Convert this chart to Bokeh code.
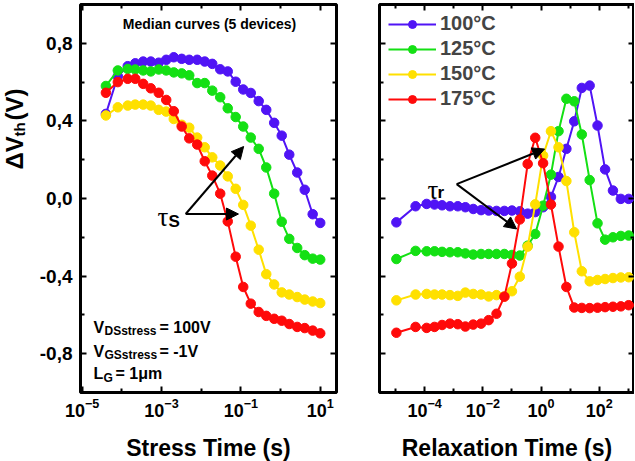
import math
from bokeh.plotting import figure
from bokeh.layouts import row
from bokeh.models import (FixedTicker, LogAxis, LinearAxis, CustomJSTickFormatter, Label,
                          Arrow, NormalHead, Legend, LegendItem, Range1d)
from bokeh.embed import file_html
from bokeh.resources import INLINE

# ---------------- data ----------------
stress_log_t = [-4.40, -4.10, -3.85, -3.66, -3.46, -3.27, -3.07, -2.88, -2.69, -2.49,
                -2.30, -2.10, -1.91, -1.72, -1.52, -1.33, -1.13, -0.94, -0.75, -0.55,
                -0.36, -0.16, 0.03, 0.22, 0.42, 0.61, 0.81, 1.00]
stress_100 = [0.436, 0.63, 0.682, 0.697, 0.706, 0.706, 0.70, 0.715, 0.728, 0.72,
              0.715, 0.715, 0.706, 0.694, 0.666, 0.655, 0.602, 0.562, 0.544, 0.502,
              0.457, 0.39, 0.324, 0.226, 0.134, 0.045, -0.081, -0.126]
stress_125 = [0.58, 0.66, 0.668, 0.665, 0.66, 0.655, 0.665, 0.66, 0.65, 0.645,
              0.635, 0.595, 0.595, 0.556, 0.522, 0.465, 0.42, 0.371, 0.314, 0.256,
              0.16, 0.025, -0.12, -0.208, -0.255, -0.292, -0.31, -0.315]
stress_150 = [0.428, 0.47, 0.479, 0.484, 0.484, 0.479, 0.457, 0.448, 0.41, 0.38,
              0.365, 0.314, 0.264, 0.212, 0.17, 0.114, 0.05, -0.033, -0.14, -0.264,
              -0.39, -0.443, -0.484, -0.495, -0.508, -0.521, -0.531, -0.539]
stress_175 = [0.545, 0.60, 0.617, 0.617, 0.591, 0.568, 0.545, 0.508, 0.45, 0.371,
              0.31, 0.278, 0.192, 0.118, 0.025, -0.118, -0.30, -0.456, -0.542, -0.585,
              -0.605, -0.62, -0.63, -0.647, -0.662, -0.668, -0.681, -0.695]

relax_log_t = [-4.97, -4.31, -3.93, -3.66, -3.40, -3.13, -2.86, -2.60, -2.33, -2.06,
               -1.80, -1.53, -1.26, -1.00, -0.73, -0.46, -0.20, 0.07, 0.34, 0.60,
               0.87, 1.14, 1.40, 1.67, 1.94, 2.20, 2.47, 2.74, 3.01]
relax_100 = [-0.123, -0.04, -0.028, -0.031, -0.035, -0.04, -0.04, -0.045, -0.054, -0.06,
             -0.062, -0.064, -0.064, -0.062, -0.066, -0.078, -0.07, -0.045, 0.008, 0.111,
             0.256, 0.398, 0.57, 0.582, 0.376, 0.15, 0.041, -0.002, -0.002]
relax_125 = [-0.312, -0.27, -0.272, -0.272, -0.275, -0.277, -0.277, -0.283, -0.289, -0.286,
             -0.286, -0.286, -0.286, -0.291, -0.294, -0.243, -0.183, -0.037, 0.123, 0.347,
             0.514, 0.501, 0.33, 0.095, -0.128, -0.212, -0.2, -0.193, -0.191]
relax_150 = [-0.525, -0.495, -0.492, -0.495, -0.495, -0.498, -0.502, -0.485, -0.492, -0.495,
             -0.505, -0.498, -0.505, -0.478, -0.403, -0.248, -0.03, 0.221, 0.347, 0.264,
             0.09, -0.174, -0.375, -0.427, -0.42, -0.415, -0.41, -0.407, -0.406]
relax_175 = [-0.692, -0.662, -0.667, -0.662, -0.652, -0.645, -0.648, -0.66, -0.65, -0.645,
             -0.627, -0.594, -0.506, -0.335, -0.108, 0.178, 0.313, 0.182, -0.031, -0.248,
             -0.456, -0.562, -0.564, -0.565, -0.563, -0.56, -0.558, -0.556, -0.55]

temps = ["100°C", "125°C", "150°C", "175°C"]
colors = ["#5014F5", "#14E014", "#FFE000", "#FF0A0A"]

y_ticks = [-0.8, -0.4, 0.0, 0.4, 0.8]
y_minor = [-1.0, -0.6, -0.2, 0.2, 0.6, 1.0]
stress_ticks = [1e-5, 1e-3, 1e-1, 1e1]
stress_minor = [1e-4, 1e-2, 1e0]
relax_ticks = [1e-4, 1e-2, 1e0, 1e2]
relax_minor = [1e-5, 1e-3, 1e-1, 1e1, 1e3]

FONT = "Liberation Sans"
H_TOTAL = 458


def style_axis(ax, ticker, show_labels=True, standoff=5, size=18):
    ax.ticker = ticker
    ax.axis_line_color = None
    ax.major_tick_in = 6
    ax.major_tick_out = 0
    ax.minor_tick_in = 4
    ax.minor_tick_out = 0
    ax.major_tick_line_width = 2
    ax.minor_tick_line_width = 2
    ax.major_tick_line_color = "black"
    ax.minor_tick_line_color = "black"
    ax.major_label_text_font = FONT
    ax.major_label_text_font_style = "bold"
    ax.major_label_text_color = "black"
    ax.axis_label_text_font = FONT
    ax.axis_label_text_font_style = "bold"
    ax.axis_label_text_font_size = "23px"
    ax.axis_label_text_color = "black"
    if show_labels:
        ax.major_label_text_font_size = f"{size}px"
        ax.major_label_standoff = standoff
    else:
        ax.major_label_text_font_size = "1px"
        ax.major_label_text_alpha = 0
        ax.major_label_standoff = 0


def make_fig(xr, fw, mbl, mbr):
    p = figure(x_axis_type="log", x_range=xr, y_range=Range1d(-1.0, 1.0),
               frame_width=fw, frame_height=388,
               min_border_left=mbl, min_border_right=mbr, min_border_top=4, min_border_bottom=66,
               output_backend="svg", toolbar_location=None)
    p.xgrid.visible = False
    p.ygrid.visible = False
    p.outline_line_color = "black"
    p.outline_line_width = 3
    p.outline_line_alpha = 1
    p.background_fill_color = "white"
    p.border_fill_color = "white"
    return p


def lab(p, x, y, text, size, bold=True, font=FONT, align="left", angle=0.0):
    p.add_layout(Label(x=x, y=y, x_units="screen", y_units="screen", text=text,
                       text_font=font, text_font_size=f"{size}px",
                       text_font_style="bold" if bold else "normal",
                       text_align=align, text_baseline="alphabetic",
                       angle=angle, text_color="black"))


# ---------------- y-axis title strip ----------------
p0 = figure(width=34, height=H_TOTAL, x_axis_type=None, y_axis_type=None,
            x_range=Range1d(0, 1), y_range=Range1d(0, 1), min_border=0,
            output_backend="svg", toolbar_location=None)
p0.outline_line_color = None
p0.xgrid.visible = False
p0.ygrid.visible = False
lab(p0, 14, 218, "ΔV", 24, angle=math.pi / 2)
lab(p0, 19, 251, "th", 15, angle=math.pi / 2)
lab(p0, 14, 267, "(V)", 24, angle=math.pi / 2)

# ---------------- left panel ----------------
p1 = make_fig(Range1d(10 ** -5.04, 10 ** 1.41), 256, 46, 5)
yfmt = CustomJSTickFormatter(code="return tick.toFixed(1).replace('.', ',');")
style_axis(p1.xaxis[0], FixedTicker(ticks=stress_ticks, minor_ticks=stress_minor))
p1.xaxis[0].axis_label = "Stress Time (s)"
p1.xaxis[0].axis_label_standoff = 15
style_axis(p1.yaxis[0], FixedTicker(ticks=y_ticks, minor_ticks=y_minor), standoff=8, size=19)
p1.yaxis[0].formatter = yfmt
top1 = LogAxis()
style_axis(top1, FixedTicker(ticks=stress_ticks, minor_ticks=stress_minor), False)
p1.add_layout(top1, "above")
right1 = LinearAxis()
style_axis(right1, FixedTicker(ticks=y_ticks, minor_ticks=y_minor), False)
p1.add_layout(right1, "right")

stress_t = [10 ** v for v in stress_log_t]
for ys, c in zip([stress_100, stress_125, stress_150, stress_175], colors):
    p1.line(stress_t, ys, line_color=c, line_width=2)
    p1.scatter(stress_t, ys, size=9.5, fill_color=c, line_color=c)

lab(p1, 129, 369, "Median curves (5 devices)", 14, align="center")
lab(p1, 77, 176, "τ", 27, bold=False, font="Liberation Serif")
lab(p1, 88, 171, "S", 17)

lab(p1, 13, 65, "V", 16)
lab(p1, 24, 62, "DSstress", 12)
lab(p1, 79, 65, "= 100V", 16)
lab(p1, 13, 41, "V", 16)
lab(p1, 24, 38, "GSstress", 12)
lab(p1, 79, 41, "= -1V", 16)
lab(p1, 13, 19, "L", 16)
lab(p1, 23, 15, "G", 12)
lab(p1, 35, 19, "= 1μm", 16)

for xe, ye in [(10 ** -0.93, 0.268), (10 ** -1.06, -0.08)]:
    p1.add_layout(Arrow(end=NormalHead(size=12, fill_color="black", line_color="black"),
                        x_start=10 ** -2.39, y_start=-0.08, x_end=xe, y_end=ye,
                        line_color="black", line_width=2))

# ---------------- right panel ----------------
p2 = make_fig(Range1d(10 ** -5.55, 10 ** 3.21), 255, 38, 0)
style_axis(p2.xaxis[0], FixedTicker(ticks=relax_ticks, minor_ticks=relax_minor))
p2.xaxis[0].axis_label = "Relaxation Time (s)"
p2.xaxis[0].axis_label_standoff = 15
style_axis(p2.yaxis[0], FixedTicker(ticks=y_ticks, minor_ticks=y_minor), False)
top2 = LogAxis()
style_axis(top2, FixedTicker(ticks=relax_ticks, minor_ticks=relax_minor), False)
p2.add_layout(top2, "above")
right2 = LinearAxis()
style_axis(right2, FixedTicker(ticks=y_ticks, minor_ticks=y_minor), False)
p2.add_layout(right2, "right")

relax_t = [10 ** v for v in relax_log_t]
items = []
for ys, c, name in zip([relax_100, relax_125, relax_150, relax_175], colors, temps):
    lr = p2.line(relax_t, ys, line_color=c, line_width=2)
    sr = p2.scatter(relax_t, ys, size=9.5, fill_color=c, line_color=c)
    items.append(LegendItem(label=name, renderers=[lr, sr]))

legend = Legend(items=items, location=(9, 282), border_line_color=None,
                background_fill_alpha=0, label_text_font=FONT, label_text_font_style="bold",
                label_text_font_size="20px", glyph_width=48, glyph_height=20,
                label_height=20, label_standoff=4, spacing=2, padding=0, margin=0)
p2.add_layout(legend)

lab(p2, 48, 203, "τ", 27, bold=False, font="Liberation Serif")
lab(p2, 58, 200, "r", 17)

for xe, ye in [(10 ** 0.12, 0.255), (10 ** -0.84, -0.157)]:
    p2.add_layout(Arrow(end=NormalHead(size=12, fill_color="black", line_color="black"),
                        x_start=10 ** -2.90, y_start=0.074, x_end=xe, y_end=ye,
                        line_color="black", line_width=2))

layout = row(p0, p1, p2)
open("out.html", "w").write(file_html(layout, INLINE))
